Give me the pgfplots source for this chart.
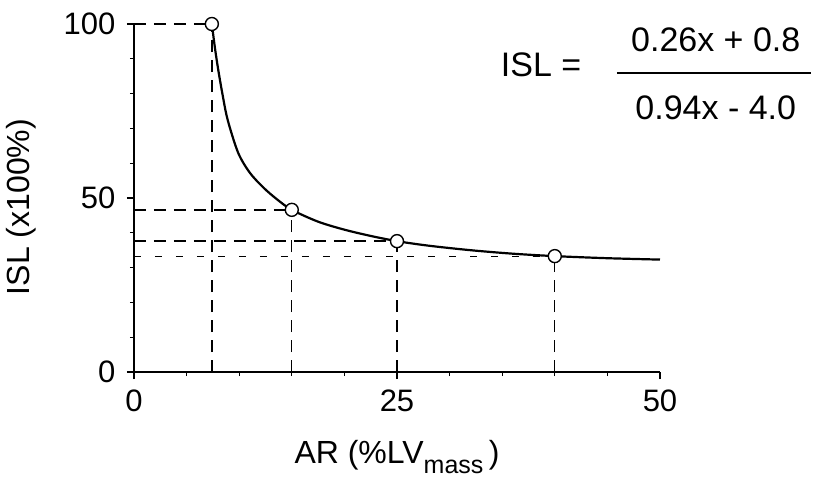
\documentclass[border=0pt]{standalone}
\usepackage{pgfplots}
\pgfplotsset{compat=1.18}
\usepackage{fontspec}
\setmainfont{Liberation Sans}
\begin{document}
\begin{tikzpicture}[x=1pt,y=1pt]
\useasboundingbox (-134,-111) rectangle (694,372);
\begin{axis}[
  at={(0,0)}, anchor=south west,
  scale only axis, width=526pt, height=348pt,
  xmin=0, xmax=50, ymin=0, ymax=100,
  axis lines*=left,
  axis line style={line width=1.4pt},
  clip=false,
  xtick={0,25,50}, ytick={0,50,100},
  minor x tick num=4, minor y tick num=4,
  tick align=outside,
  major tick length=7pt, minor tick length=4pt,
  every tick/.style={black, line width=1.2pt},
  /pgf/number format/assume math mode=true,
  tick label style={font=\fontsize{31}{31}\selectfont},
  yticklabel style={xshift=-8pt},
  xticklabel style={yshift=-7pt},
  xlabel={AR (\%LV\raisebox{-10pt}{\fontsize{25}{25}\selectfont mass}\,)},
  xlabel style={at={(axis description cs:0.5,-0.245)}, anchor=center, font=\fontsize{32}{32}\selectfont},
  ylabel={ISL (x100\%)},
  ylabel style={at={(axis description cs:-0.215,0.474)}, anchor=center, font=\fontsize{32}{32}\selectfont},
]
% dashed guides
\addplot[black, line width=1.4pt, dash pattern=on 12pt off 8pt] coordinates {(7.4,0) (7.4,100)};
\addplot[black, line width=1.4pt, dash pattern=on 12pt off 8pt] coordinates {(0,100) (7.4,100)};
\addplot[black, line width=1.4pt, dash pattern=on 12pt off 8pt] coordinates {(15,0) (15,46.6)};
\addplot[black, line width=1.4pt, dash pattern=on 12pt off 8pt] coordinates {(0,46.6) (15,46.6)};
\addplot[black, line width=1.4pt, dash pattern=on 12pt off 8pt] coordinates {(25,0) (25,37.6)};
\addplot[black, line width=1.4pt, dash pattern=on 12pt off 8pt] coordinates {(0,37.6) (25,37.6)};
\addplot[black, line width=1.4pt, dash pattern=on 12pt off 8pt] coordinates {(40,0) (40,33.3)};
\addplot[black, line width=1.2pt, dash pattern=on 7pt off 14pt] coordinates {(0,33.3) (40,33.3)};
% curve
\addplot[black, line width=2.2pt, smooth, tension=0.5] coordinates {
(7.4,100) (7.7,93) (8.0,87) (8.4,80) (8.9,72.5) (9.9,63) (11,57.3) (12.3,53) (13.6,49.6) (15,46.6)
(17.5,43.2) (20,40.9) (22.5,39.1) (25,37.6) (28,36.3) (32,35.0) (36,34.0) (40,33.3) (45,32.7) (50,32.3)};
% points
\addplot[only marks, mark=*, mark size=6.5pt, mark options={fill=white, draw=black, line width=1.4pt}] coordinates {
(7.4,100) (15,46.6) (25,37.6) (40,33.3)};
% equation
\node[font=\fontsize{34}{34}\selectfont] at (axis cs:38.7,88.2) {ISL =};
\node[font=\fontsize{34}{34}\selectfont] at (axis cs:55.3,95.4) {0.26x + 0.8};
\node[font=\fontsize{34}{34}\selectfont] at (axis cs:55.3,75.9) {0.94x - 4.0};
\draw[line width=1.6pt] (axis cs:45.9,85.9) -- (axis cs:64.4,85.9);
\end{axis}
\end{tikzpicture}
\end{document}
